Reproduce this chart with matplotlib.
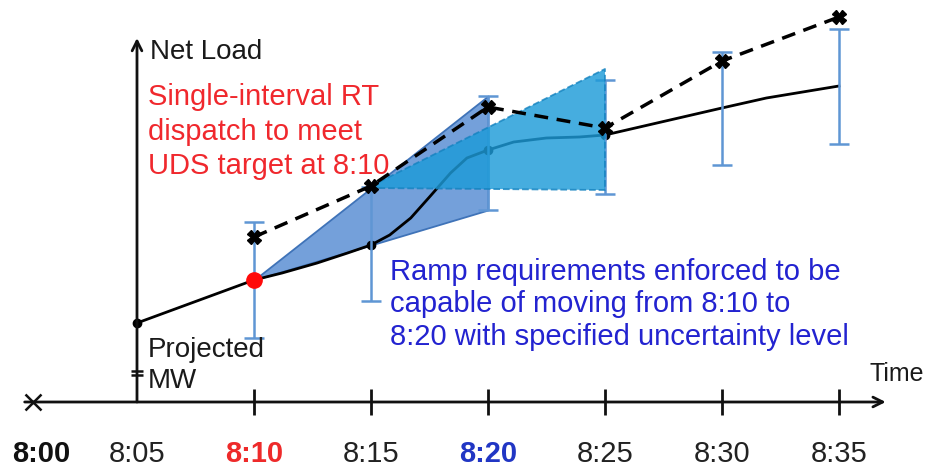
import numpy as np
import matplotlib.pyplot as plt

plt.rcParams['font.family'] = ['Liberation Sans', 'DejaVu Sans']

# time in minutes after 8:00 (axis is broken between 8:00 and 8:05)
tick_min = [10, 15, 20, 25, 30, 35]
label_min = [0.9, 5, 10, 15, 20, 25, 30, 35]
tick_labels = ['8:00', '8:05', '8:10', '8:15', '8:20', '8:25', '8:30', '8:35']
label_colors = ['#111111', '#222222', '#ee2a2a', '#222222', '#2136c4', '#222222', '#222222', '#222222']
label_bold = [True, False, True, False, True, False, False, False]

# projected MW (solid line), points with markers
proj_t = [5, 15, 20, 25]
proj_mw = [7.9, 15.7, 25.2, 26.7]
# solid curve read along its path
curve_t = [5, 10, 11.2, 12.7, 14.0, 15, 15.8, 16.7, 17.5, 18.4, 19.1, 20,
           21.1, 22.5, 23.9, 25, 30, 31.9, 35]
curve_mw = [7.9, 12.2, 12.9, 13.9, 14.9, 15.7, 16.7, 18.4, 20.5, 22.9, 24.4, 25.2,
            26.0, 26.4, 26.5, 26.7, 29.4, 30.4, 31.6]

# dispatch target at 8:10
target_t = 10
target_mw = 12.2

# dashed line (net load with uncertainty)
uds_t = [10, 15, 20, 25, 30, 35]
uds_mw = [16.5, 21.6, 29.5, 27.4, 34.1, 38.5]

# uncertainty bars
err_t = [10, 15, 20, 25, 30, 35]
err_lo = [6.4, 10.1, 19.2, 20.8, 23.7, 25.8]
err_hi = [18.0, 21.5, 30.6, 32.2, 35.0, 37.3]

# ramp requirement regions
ramp1_t = [10, 20]
ramp1_lo = [12.2, 19.2]
ramp1_hi = [12.2, 30.6]
ramp2_t = [15, 25]
ramp2_lo = [21.4, 21.2]
ramp2_hi = [21.6, 33.3]

fig = plt.figure(figsize=(9.33, 4.7), dpi=100)
ax = fig.add_axes([0, 0, 1, 1])
ax.set_xlim(-0.855, 39.02)
ax.set_ylim(-6.8, 40.2)
ax.axis('off')

ax.fill_between(ramp1_t, ramp1_lo, ramp1_hi, facecolor='#74a0da', edgecolor='#3f73b8', lw=1.3, zorder=1)
ax.plot(curve_t, curve_mw, color='black', lw=2, zorder=2)
ax.plot(proj_t, proj_mw, 'o', color='black', ms=6, zorder=2)

err_lo = np.array(err_lo)
err_hi = np.array(err_hi)
mid = (err_lo + err_hi) / 2
ax.errorbar(err_t, mid, yerr=(err_hi - err_lo) / 2, fmt='none', ecolor='#5f96d4',
            elinewidth=1.8, capsize=7, capthick=1.8, zorder=2)

ax.fill_between(ramp2_t, ramp2_lo, ramp2_hi, facecolor='#1d9bd8', alpha=0.82,
                edgecolor='#1583c0', lw=1.3, linestyle='--', zorder=3)

ax.plot(uds_t, uds_mw, '--', color='black', lw=2.5, dashes=(4, 2.5), zorder=5)
ax.plot(uds_t, uds_mw, 'X', color='black', ms=10, zorder=5)
ax.plot(target_t, target_mw, 'o', color='#ff0a0a', ms=11, zorder=6)

# axes
arrow = dict(arrowstyle='->,head_length=0.7,head_width=0.35', lw=2, color='#111111',
             shrinkA=0, shrinkB=0)
ax.annotate('', xy=(37.0, 0), xytext=(0.2, 0), arrowprops=arrow)
ax.annotate('', xy=(5, 36.4), xytext=(5, 0), arrowprops=arrow)
ax.vlines(tick_min, -1.3, 1.3, color='#111111', lw=2)
ax.hlines([2.7, 3.1], 4.74, 5.26, color='#111111', lw=1.8)
ax.plot(0.56, 0, 'x', color='#111111', ms=11, mew=1.8)

for m, lab, c, b in zip(label_min, tick_labels, label_colors, label_bold):
    ax.text(m, -5.2, lab, ha='center', va='center', fontsize=21, color=c,
            fontweight='bold' if b else 'normal')

ax.text(5.56, 35.0, 'Net Load', fontsize=20, color='#1a1a1a', va='center')
ax.text(5.47, 31.9, 'Single-interval RT\ndispatch to meet\nUDS target at 8:10',
        fontsize=21, color='#f0282d', va='top', linespacing=1.3)
ax.text(15.81, 14.4, 'Ramp requirements enforced to be\ncapable of moving from 8:10 to\n8:20 with specified uncertainty level',
        fontsize=21, color='#2323d0', va='top', linespacing=1.2)
ax.text(5.47, 6.5, 'Projected\nMW', fontsize=20, color='#1a1a1a', va='top', linespacing=1.25)
ax.text(36.32, 2.8, 'Time', fontsize=18, color='#1a1a1a', va='center')

fig.savefig('out.png', dpi=100)
